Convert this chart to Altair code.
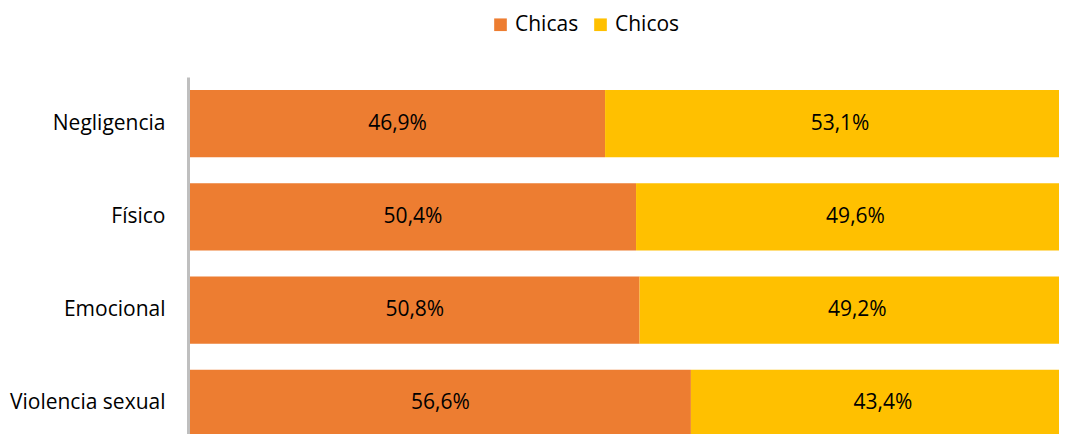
import altair as alt
import pandas as pd

categories = ["Negligencia", "Físico", "Emocional", "Violencia sexual"]
chicas = [46.9, 50.4, 50.8, 56.6]
chicos = [53.1, 49.6, 49.2, 43.4]
series = ["Chicas", "Chicos"]
colors = ["#ED7D31", "#FFC000"]

rows = []
for c, a, b in zip(categories, chicas, chicos):
    for s, v, o in ((series[0], a, 0), (series[1], b, 1)):
        rows.append({"cat": c, "serie": s, "val": v, "order": o,
                     "label": f"{v:.1f}".replace(".", ",") + "%"})
df = pd.DataFrame(rows)

FONT = "Open Sans"
FS = 21

yscale = alt.Scale(domain=categories, paddingInner=0.28, paddingOuter=0.14, range=[0, 373])
xscale = alt.Scale(domain=[0, 1], nice=False, range=[0, 885])

base = alt.Chart(df)
bars = base.mark_bar().encode(
    y=alt.Y("cat:N", sort=categories, title=None, scale=yscale,
            axis=alt.Axis(domainColor="#BFBFBF", domainWidth=3, ticks=False,
                          labelFontSize=FS, labelFont=FONT, labelColor="#000000",
                          labelPadding=23, offset=2)),
    x=alt.X("val:Q", stack="normalize", axis=None, scale=xscale),
    color=alt.Color("serie:N", sort=series,
                    scale=alt.Scale(domain=series, range=colors),
                    legend=alt.Legend(title=None, orient="none", direction="horizontal",
                                      legendX=300, legendY=-63,
                                      symbolType="square", symbolSize=160,
                                      symbolStrokeWidth=0, labelFontSize=FS,
                                      labelFont=FONT, labelColor="#000000",
                                      columnPadding=11, labelOffset=4)),
    order=alt.Order("order:Q"),
)

text = base.transform_stack(
    stack="val", groupby=["cat"], as_=["v0", "v1"], sort=[alt.SortField("order")], offset="normalize"
).transform_calculate(mid="(datum.v0+datum.v1)/2").mark_text(
    fontSize=FS, font=FONT, color="#000000"
).encode(
    y=alt.Y("cat:N", sort=categories, scale=yscale),
    x=alt.X("mid:Q", scale=xscale),
    text="label:N",
)

chart = alt.layer(bars, text).properties(
    width=869, height=357,
    autosize=alt.AutoSizeParams(type="none"),
    padding={"left": 182, "top": 69, "right": 0, "bottom": 0},
).configure_view(stroke=None)

chart.save("out.html", embed_options={"renderer": "svg", "actions": False})
